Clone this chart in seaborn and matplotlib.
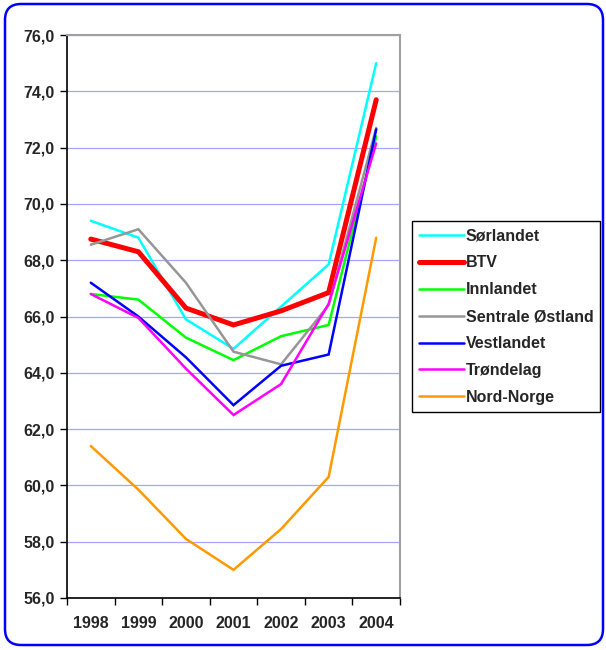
import matplotlib
matplotlib.use("Agg")
import matplotlib.pyplot as plt
import matplotlib.patches as mpatches
import matplotlib.transforms as mtransforms
from matplotlib.ticker import FixedLocator, FuncFormatter
import numpy as np
import pandas as pd
import seaborn as sns

years = ["1998", "1999", "2000", "2001", "2002", "2003", "2004"]

sorlandet = [69.4, 68.8, 65.9, 64.85, 66.35, 67.85, 75.0]
btv = [68.75, 68.3, 66.3, 65.7, 66.2, 66.85, 73.7]
innlandet = [66.8, 66.6, 65.25, 64.45, 65.3, 65.7, 72.4]
sentrale_ostland = [68.55, 69.1, 67.2, 64.75, 64.3, 66.4, 72.7]
vestlandet = [67.2, 66.0, 64.55, 62.85, 64.25, 64.65, 72.65]
trondelag = [66.8, 65.95, 64.15, 62.5, 63.6, 66.45, 72.15]
nord_norge = [61.4, 59.85, 58.1, 57.0, 58.45, 60.3, 68.8]

series = {
    "Sørlandet": sorlandet,
    "BTV": btv,
    "Innlandet": innlandet,
    "Sentrale Østland": sentrale_ostland,
    "Vestlandet": vestlandet,
    "Trøndelag": trondelag,
    "Nord-Norge": nord_norge,
}
colors = {
    "Sørlandet": "#00FFFF",
    "BTV": "#FF0000",
    "Innlandet": "#00FF00",
    "Sentrale Østland": "#969696",
    "Vestlandet": "#0000FF",
    "Trøndelag": "#FF00FF",
    "Nord-Norge": "#FF9900",
}
widths = {name: 1.8 for name in series}
widths["BTV"] = 3.6

df = pd.DataFrame(
    [(i, v, name) for name, vals in series.items() for i, v in enumerate(vals)],
    columns=["pos", "value", "region"],
)

sns.set_style("white")
plt.rcParams["font.family"] = ["Liberation Sans", "DejaVu Sans"]
plt.rcParams["font.weight"] = "bold"

W, H = 606, 650
fig = plt.figure(figsize=(W / 100, H / 100), dpi=100)
ax = fig.add_axes([67 / W, 1 - 598 / H, (400 - 67) / W, (598 - 35) / H])

for name in series:
    sub = df[df["region"] == name]
    sns.lineplot(data=sub, x="pos", y="value", ax=ax, color=colors[name],
                 linewidth=widths[name], label=name, legend=False, zorder=3,
                 solid_joinstyle="miter")

ax.set_xlim(-0.5, 6.5)
ax.set_ylim(56, 76)
ax.set_xlabel("")
ax.set_ylabel("")

# y axis
yt = np.arange(56, 77, 2)
ax.yaxis.set_major_locator(FixedLocator(yt))
ax.yaxis.set_major_formatter(FuncFormatter(lambda v, p: f"{v:.1f}".replace(".", ",")))
ax.grid(axis="y", color="#A6A6FF", linewidth=0.9, zorder=1)
ax.grid(axis="x", visible=False)

# x axis: ticks on category boundaries, labels at centers
ax.xaxis.set_major_locator(FixedLocator(np.arange(-0.5, 7, 1)))
ax.xaxis.set_major_formatter(FuncFormatter(lambda v, p: ""))
ax.xaxis.set_minor_locator(FixedLocator(np.arange(0, 7)))
ax.set_xticklabels(years, minor=True)
ax.tick_params(axis="x", which="minor", length=0, pad=13, labelsize=11.5)
ax.tick_params(axis="x", which="major", length=5, width=1, color="black",
               direction="out", bottom=True)
ax.tick_params(axis="y", length=5, width=1, color="black", direction="out",
               left=True, labelsize=11.5, pad=4)
for lab in ax.get_xticklabels(minor=True) + ax.get_yticklabels():
    lab.set_fontweight("bold")

for side in ["left", "bottom"]:
    ax.spines[side].set_color("black")
    ax.spines[side].set_linewidth(1.2)
for side in ["top", "right"]:
    ax.spines[side].set_color("#A0A0A0")
    ax.spines[side].set_linewidth(1.5)

handles = [plt.Line2D([], [], color=colors[n], linewidth=widths[n]) for n in series]
leg = fig.legend(handles, list(series.keys()), loc="upper left",
                 bbox_to_anchor=(412 / W, 1 - 221 / H), frameon=True,
                 fancybox=False, edgecolor="black", framealpha=1,
                 prop={"weight": "bold", "size": 11.5}, handlelength=2.8,
                 handletextpad=0.1, labelspacing=0.75, borderpad=0.45,
                 borderaxespad=0)
leg.get_frame().set_linewidth(1.0)

# rounded outer frame
frame = mpatches.FancyBboxPatch((5, 5), W - 8, H - 9,
                                boxstyle="round,pad=0,rounding_size=16",
                                transform=mtransforms.IdentityTransform(),
                                facecolor="none", edgecolor="#0000FF",
                                linewidth=1.8)
fig.patches.append(frame)

fig.savefig("out.png", dpi=100)
